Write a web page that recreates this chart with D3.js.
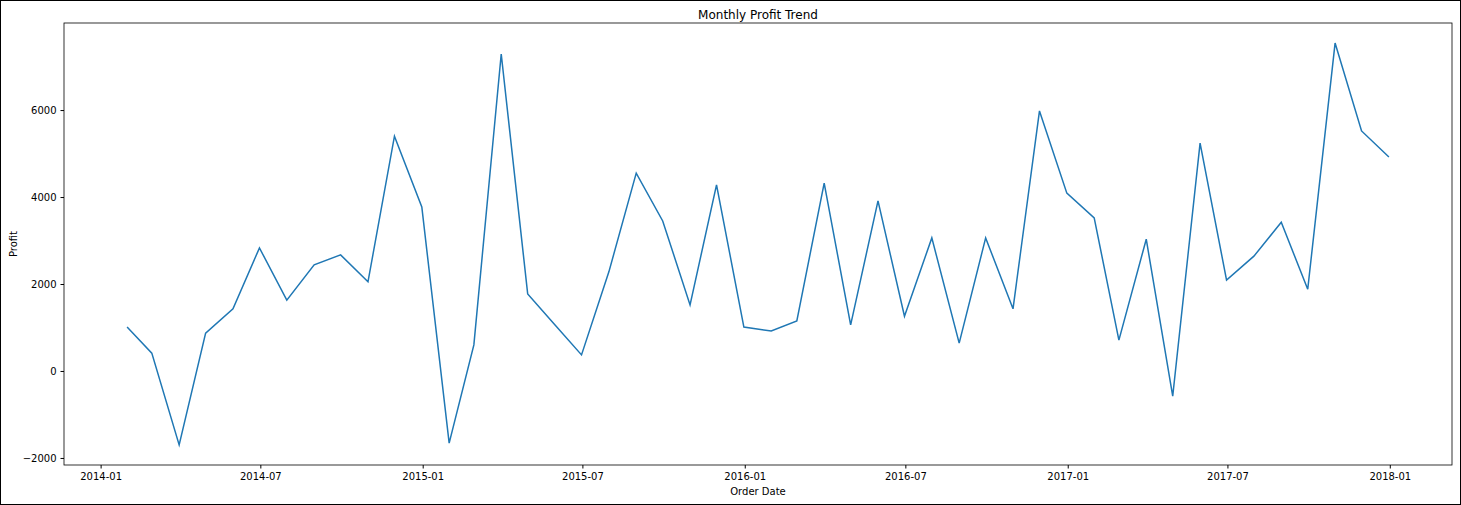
<!DOCTYPE html>
<html><head><meta charset="utf-8">
<script src="https://cdn.jsdelivr.net/npm/d3@7"></script>
<style>body{margin:0;background:#fff}svg{font-family:"DejaVu Sans",sans-serif}</style>
</head><body>
<svg id="chart" width="1461" height="505"></svg>
<script>
const months = d3.range(48).map(i => new Date(2014, i + 1, 0));
const profit = [1010, 410, -1700, 870, 1430, 2830, 1630, 2440, 2670, 2050, 5400, 3770,
  -1660, 600, 7290, 1770, 1060, 370, 2280, 4550, 3450, 1520, 4280, 1010,
  920, 1150, 4320, 1060, 3910, 1260, 3060, 640, 3060, 1430, 5980, 4090,
  3520, 710, 3030, -580, 5240, 2090, 2640, 3420, 1880, 7540, 5520, 4920];
const xTicks = ["2014-01","2014-07","2015-01","2015-07","2016-01","2016-07","2017-01","2017-07","2018-01"];
const yTicks = [-2000, 0, 2000, 4000, 6000];

const svg = d3.select("#chart");
svg.append("rect").attr("x",0.5).attr("y",0.5).attr("width",1460).attr("height",504)
  .attr("fill","none").attr("stroke","#000");
const m = {left:64, right:1452, top:23, bottom:465};

const t0 = +months[0], t1 = +months[47], dt = (t1 - t0) * 0.05;
const x = d3.scaleTime().domain([new Date(t0 - dt), new Date(t1 + dt)]).range([m.left, m.right]);
const ext = d3.extent(profit), dy = (ext[1] - ext[0]) * 0.05;
const y = d3.scaleLinear().domain([ext[0] - dy, ext[1] + dy]).range([m.bottom, m.top]);

const pt = s => { const [a,b] = s.split("-"); return new Date(+a, +b - 1, 1); };
const xa = svg.append("g").attr("transform",`translate(0,${m.bottom})`)
  .call(d3.axisBottom(x).tickValues(xTicks.map(pt)).tickFormat(d3.timeFormat("%Y-%m")).tickSize(3.5).tickPadding(4));
const ya = svg.append("g").attr("transform",`translate(${m.left},0)`)
  .call(d3.axisLeft(y).tickValues(yTicks).tickFormat(d3.format("d")).tickSize(3.5).tickPadding(4));
[xa, ya].forEach(g => { g.select(".domain").remove(); g.selectAll("text").attr("font-size",10).attr("fill","#000").attr("font-family","DejaVu Sans"); });

svg.append("rect").attr("x",m.left).attr("y",m.top).attr("width",m.right-m.left).attr("height",m.bottom-m.top)
  .attr("fill","none").attr("stroke","#000").attr("stroke-width",0.8);

svg.append("path").datum(profit).attr("fill","none").attr("stroke","#1f77b4").attr("stroke-width",1.5)
  .attr("d", d3.line().x((d,i) => x(months[i])).y(d => y(d)));

svg.append("text").attr("x",(m.left+m.right)/2).attr("y",19).attr("text-anchor","middle")
  .attr("font-size",12).text("Monthly Profit Trend");
svg.append("text").attr("x",(m.left+m.right)/2).attr("y",495).attr("text-anchor","middle")
  .attr("font-size",10).text("Order Date");
svg.append("text").attr("transform",`translate(17,${(m.top+m.bottom)/2}) rotate(-90)`).attr("text-anchor","middle")
  .attr("font-size",10).text("Profit");
</script>
</body></html>
